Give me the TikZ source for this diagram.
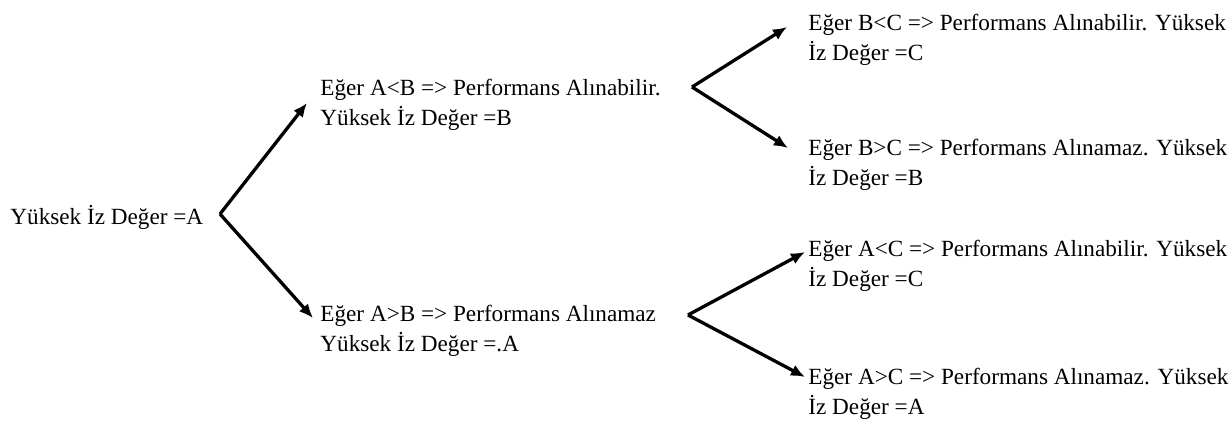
\documentclass[tikz,border=0pt]{standalone}
\usepackage{fontspec}
\setmainfont{Liberation Serif}
\usetikzlibrary{arrows.meta}

\begin{document}
\begin{tikzpicture}[x=0.5pt,y=-0.5pt]
\tikzstyle{cond}=[anchor=west, inner sep=0pt, align=left, font=\fontsize{11.6}{15.25}\selectfont]
\tikzstyle{branch}=[-{Latex[length=7pt,width=6pt]}, line width=1.65pt]
\useasboundingbox (0,0) rectangle (1232,428);
% levels of the decision tree
\node[cond] (root) at (10,217) {Yüksek İz Değer =A};
\node[cond] (ab1) at (320,105) {Eğer A<B => Performans Alınabilir.\\Yüksek İz Değer =B};
\node[cond] (ab2) at (320,331) {Eğer A>B => Performans Alınamaz\\Yüksek İz Değer =.A};
\node[cond] (bc1) at (808,40) {Eğer B<C => Performans Alınabilir. Yüksek\\İz Değer =C};
\node[cond] (bc2) at (808,165) {Eğer B>C => Performans Alınamaz. Yüksek\\İz Değer =B};
\node[cond] (ac1) at (808,266) {Eğer A<C => Performans Alınabilir. Yüksek\\İz Değer =C};
\node[cond] (ac2) at (808,394) {Eğer A>C => Performans Alınamaz. Yüksek\\İz Değer =A};
% branching points
\coordinate (v0) at (220,214);
\coordinate (v1) at (692,87);
\coordinate (v2) at (688,315);
\draw[branch] (v0) -- ([xshift=-6.5pt,yshift=1pt]ab1.west);
\draw[branch] (v0) -- ([xshift=-3.5pt,yshift=6.5pt]ab2.west);
\draw[branch] (v1) -- ([xshift=-10.5pt,yshift=6.5pt]bc1.west);
\draw[branch] (v1) -- ([xshift=-10pt,yshift=8.5pt]bc2.west);
\draw[branch] (v2) -- ([xshift=-1.5pt,yshift=7pt]ac1.west);
\draw[branch] (v2) -- ([xshift=-1.5pt,yshift=8.5pt]ac2.west);
\end{tikzpicture}
\end{document}
